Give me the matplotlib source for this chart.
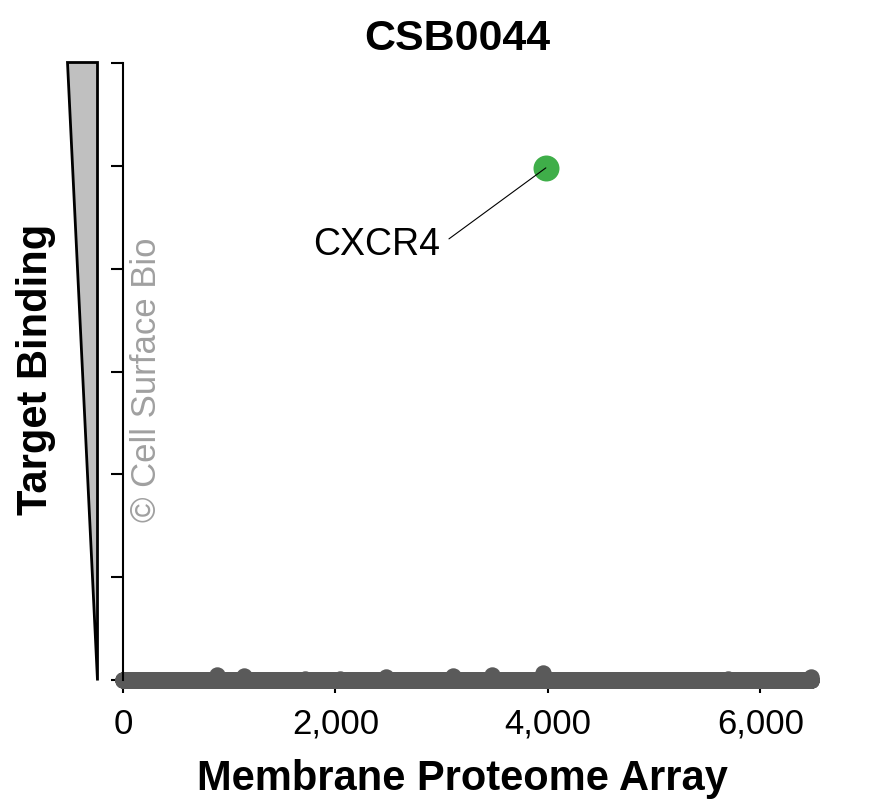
import numpy as np
import matplotlib
matplotlib.use("Agg")
import matplotlib.pyplot as plt
from matplotlib.patches import Polygon

plt.rcParams['font.family'] = ['Liberation Sans', 'DejaVu Sans']

# array positions of all proteins on the membrane proteome array
n_proteins = 6480
protein_index = np.arange(1, n_proteins + 1)

bump_index = [887, 1142, 1717, 2047, 2472, 3104, 3472, 3953, 5698, 6481]
bump_value = [0.05, 0.04, 0.01, 0.01, 0.03, 0.04, 0.05, 0.07, 0.01, 0.03]

hit_name = "CXCR4"
hit_index = 3981
hit_value = 4.98

binding = np.zeros(n_proteins)
for i, v in zip(bump_index, bump_value):
    binding[min(i, n_proteins) - 1] = v

x_ticks = [0, 2000, 4000, 6000]
x_tick_labels = ["0", "2,000", "4,000", "6,000"]
y_ticks = [0, 1, 2, 3, 4, 5, 6]

fig = plt.figure(figsize=(8.77, 8.06), dpi=100)
W, H = 877, 806
ax = fig.add_axes([123 / W, 1 - 680 / H, 701 / W, 617 / H])

ax.scatter(protein_index, binding, s=140, color='#5a5a5a', linewidths=0,
           clip_on=False, zorder=2)
ax.scatter([hit_index], [hit_value], s=350, color='#3fae49', linewidths=0,
           clip_on=False, zorder=3)

ax.annotate(hit_name, xy=(hit_index, hit_value), xytext=(2990, 4.23),
            ha='right', va='center', fontsize=27,
            arrowprops=dict(arrowstyle='-', color='black', lw=0.8,
                            relpos=(1, 0.5), shrinkA=5, shrinkB=0))

ax.set_xlim(0, 6600)
ax.set_ylim(0, 6)
ax.set_xticks(x_ticks)
ax.set_xticklabels(x_tick_labels, fontsize=25)
ax.set_yticks(y_ticks)
ax.set_yticklabels([])
ax.tick_params(axis='x', length=9, width=1.5, pad=11)
ax.tick_params(axis='y', length=9, width=1.5)

for side in ['top', 'right', 'bottom']:
    ax.spines[side].set_visible(False)
ax.spines['left'].set_linewidth(1.5)

# wedge next to the y axis
wedge = Polygon([(67 / W, 1 - 62 / H), (97 / W, 1 - 62 / H), (97 / W, 1 - 680 / H)],
                closed=True, transform=fig.transFigure, facecolor='#c0c0c0',
                edgecolor='black', lw=2)
fig.add_artist(wedge)

fig.text(457 / W, 1 - 39 / H, "CSB0044", ha='center', va='center',
         fontsize=31, fontweight='bold')
fig.text(462 / W, 1 - 790 / H, "Membrane Proteome Array", ha='center',
         va='baseline', fontsize=30, fontweight='bold')
fig.text(36 / W, 1 - 369 / H, "Target Binding", ha='center', va='center',
         rotation=90, fontsize=30, fontweight='bold')
fig.text(147 / W, 1 - 380 / H, "\u00a9 Cell Surface Bio", ha='center',
         va='center', rotation=90, fontsize=25, color='#a0a0a0')

fig.savefig("out.png", dpi=100)
